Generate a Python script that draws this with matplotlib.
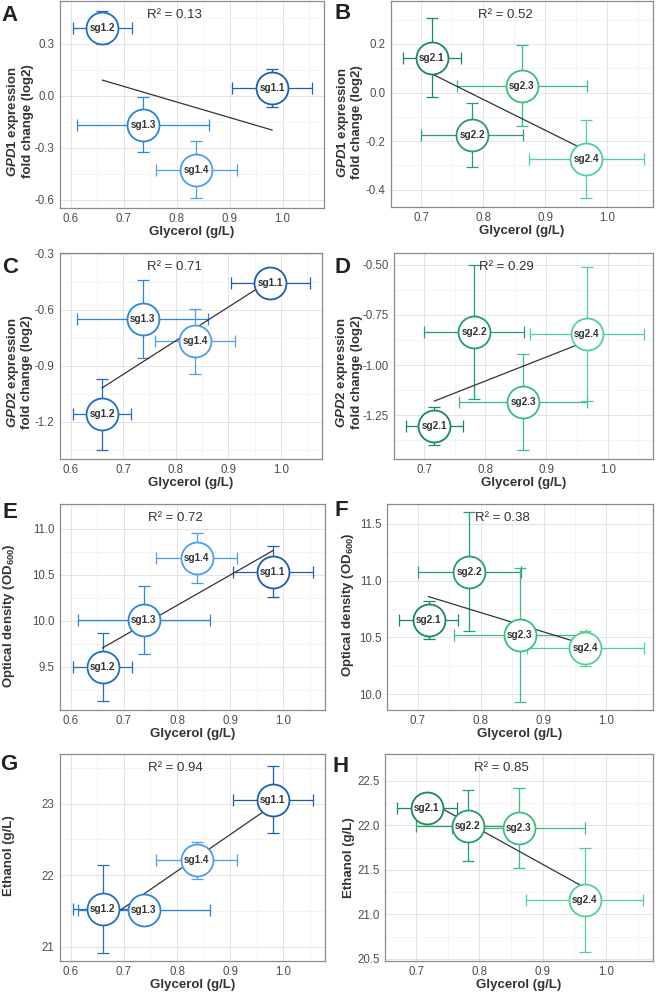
import numpy as np
import matplotlib.pyplot as plt
from matplotlib.ticker import MultipleLocator, AutoMinorLocator

plt.rcParams['font.family'] = 'Liberation Sans'
plt.rcParams['axes.unicode_minus'] = False
plt.rcParams['mathtext.fontset'] = 'custom'
plt.rcParams['mathtext.rm'] = 'Liberation Sans:bold'
plt.rcParams['mathtext.it'] = 'Liberation Sans:italic:bold'
plt.rcParams['mathtext.bf'] = 'Liberation Sans:bold'

# strain groups
labels1 = ["sg1.1", "sg1.2", "sg1.3", "sg1.4"]
labels2 = ["sg2.1", "sg2.2", "sg2.3", "sg2.4"]
blues = ["#1b5fae", "#1e6fc6", "#2a85dd", "#4a9ff0"]
greens = ["#1a8a58", "#22a068", "#3abd80", "#50d296"]

# glycerol (x) for both groups
glyc1 = [0.980, 0.660, 0.737, 0.837]
glyc1_err = [0.075, 0.055, 0.124, 0.076]
glyc2 = [0.717, 0.782, 0.862, 0.966]
glyc2_err = [0.047, 0.082, 0.105, 0.093]

# y measurements
gpd1_g1 = [0.046, 0.394, -0.167, -0.427]
gpd1_g1_err = [0.110, 0.096, 0.158, 0.166]
gpd1_g2 = [0.144, -0.173, 0.029, -0.274]
gpd1_g2_err = [0.161, 0.132, 0.165, 0.160]
gpd2_g1 = [-0.458, -1.160, -0.651, -0.770]
gpd2_g1_err = [0.030, 0.190, 0.208, 0.172]
gpd2_g2 = [-1.302, -0.834, -1.185, -0.846]
gpd2_g2_err = [0.095, 0.334, 0.240, 0.333]
od_g1 = [10.536, 9.497, 10.004, 10.680]
od_g1_err = [0.273, 0.372, 0.369, 0.270]
od_g2 = [10.653, 11.079, 10.523, 10.403]
od_g2_err = [0.170, 0.520, 0.587, 0.150]
eth_g1 = [23.056, 21.528, 21.509, 22.206]
eth_g1_err = [0.470, 0.620, 0.050, 0.260]
eth_g2 = [22.195, 21.997, 21.970, 21.158]
eth_g2_err = [0.050, 0.395, 0.445, 0.585]

r2_vals = ["0.13", "0.52", "0.71", "0.29", "0.72", "0.38", "0.94", "0.85"]

lab_gpd1 = '$\\mathit{GPD1}$ expression\nfold change (log2)'
lab_gpd2 = '$\\mathit{GPD2}$ expression\nfold change (log2)'
lab_od = 'Optical density (OD$_{600}$)'
lab_eth = 'Ethanol (g/L)'

fig = plt.figure(figsize=(6.56, 9.94), dpi=100)


def px_axes(x0, y0, x1, y1):
    return fig.add_axes([x0 / 656, 1 - y1 / 994, (x1 - x0) / 656, (y1 - y0) / 994])


def draw(ax, xs, xe, ys, ye, cols, labs, r2):
    for i in range(4):
        ax.errorbar(xs[i], ys[i], xerr=xe[i], yerr=ye[i], fmt='none', ecolor=cols[i],
                    elinewidth=0.9, capsize=4.5, capthick=0.9, zorder=2)
    slope, icpt = np.polyfit(xs, ys, 1)
    xx = np.array([min(xs), max(xs)])
    ax.plot(xx, slope * xx + icpt, color='#333333', lw=0.9, zorder=3)
    for i in range(4):
        ax.plot(xs[i], ys[i], 'o', ms=23, mfc='white', mec=cols[i], mew=1.3, zorder=4)
        ax.text(xs[i], ys[i], labs[i], ha='center', va='center', fontsize=7.2,
                fontweight='bold', color='#333333', zorder=5)
    ax.text(0.435, 0.93, 'R² = ' + r2, transform=ax.transAxes, ha='center', va='center',
            fontsize=9.5, color='#333333')


panels = [
    ("A", (60, 1, 324, 208), glyc1, glyc1_err, gpd1_g1, gpd1_g1_err, blues, labels1,
     lab_gpd1, (0.58, 1.078), (-0.648, 0.548), 0.3, (-0.10, 0.42), (1, 21)),
    ("B", (391, 1, 653, 207), glyc2, glyc2_err, gpd1_g2, gpd1_g2_err, greens, labels2,
     lab_gpd1, (0.651, 1.074), (-0.471, 0.377), 0.2, (-0.107, 0.41), (334, 19)),
    ("C", (60, 253, 322, 459), glyc1, glyc1_err, gpd2_g1, gpd2_g1_err, blues, labels1,
     lab_gpd2, (0.58, 1.078), (-1.398, -0.297), 0.3, (-0.103, 0.42), (2, 273)),
    ("D", (394, 253, 653, 459), glyc2, glyc2_err, gpd2_g2, gpd2_g2_err, greens, labels2,
     lab_gpd2, (0.651, 1.074), (-1.468, -0.442), 0.25, (-0.12, 0.42), (335, 273)),
    ("E", (60, 504, 325, 710), glyc1, glyc1_err, od_g1, od_g1_err, blues, labels1,
     lab_od, (0.58, 1.078), (9.03, 11.27), 0.5, (-0.162, 0.46), (2, 518)),
    ("F", (387, 504, 653, 710), glyc2, glyc2_err, od_g2, od_g2_err, greens, labels2,
     lab_od, (0.651, 1.074), (9.862, 11.673), 0.5, (-0.117, 0.51), (335, 516)),
    ("G", (60, 754, 325, 961), glyc1, glyc1_err, eth_g1, eth_g1_err, blues, labels1,
     lab_eth, (0.58, 1.078), (20.799, 23.696), 1.0, (-0.17, 0.51), (0, 770)),
    ("H", (385, 754, 653, 961), glyc2, glyc2_err, eth_g2, eth_g2_err, greens, labels2,
     lab_eth, (0.651, 1.074), (20.477, 22.80), 0.5, (-0.112, 0.50), (333, 772)),
]

for k, p in enumerate(panels):
    letter, box, xs, xe, ys, ye, cols, labs, ylab, xlim, ylim, ystep, lpos, letpos = p
    ax = px_axes(*box)
    draw(ax, xs, xe, ys, ye, cols, labs, r2_vals[k])
    ax.set_xlim(*xlim)
    ax.set_ylim(*ylim)
    ax.xaxis.set_major_locator(MultipleLocator(0.1))
    ax.yaxis.set_major_locator(MultipleLocator(ystep))
    ax.xaxis.set_minor_locator(AutoMinorLocator(2))
    ax.yaxis.set_minor_locator(AutoMinorLocator(2))
    ax.grid(which='major', color='#e4e4e4', lw=0.7)
    ax.grid(which='minor', color='#efefef', lw=0.45)
    ax.set_axisbelow(True)
    for s in ax.spines.values():
        s.set_color('#8a8a8a')
        s.set_linewidth(0.9)
    ax.tick_params(which='both', length=0, labelsize=8.3, labelcolor='#4d4d4d', pad=4)
    ax.tick_params(axis='x', pad=3.5)
    ax.set_xlabel('Glycerol (g/L)', fontsize=9.5, fontweight='bold', color='#333333', labelpad=0.5)
    ax.set_ylabel(ylab, fontsize=9.5, fontweight='bold', color='#333333', linespacing=1.05)
    ax.yaxis.set_label_coords(*lpos)
    fig.text(letpos[0] / 656, 1 - letpos[1] / 994, letter, fontsize=16, fontweight='bold',
             color='#222222', ha='left', va='baseline')

plt.savefig("out.png", dpi=100)
